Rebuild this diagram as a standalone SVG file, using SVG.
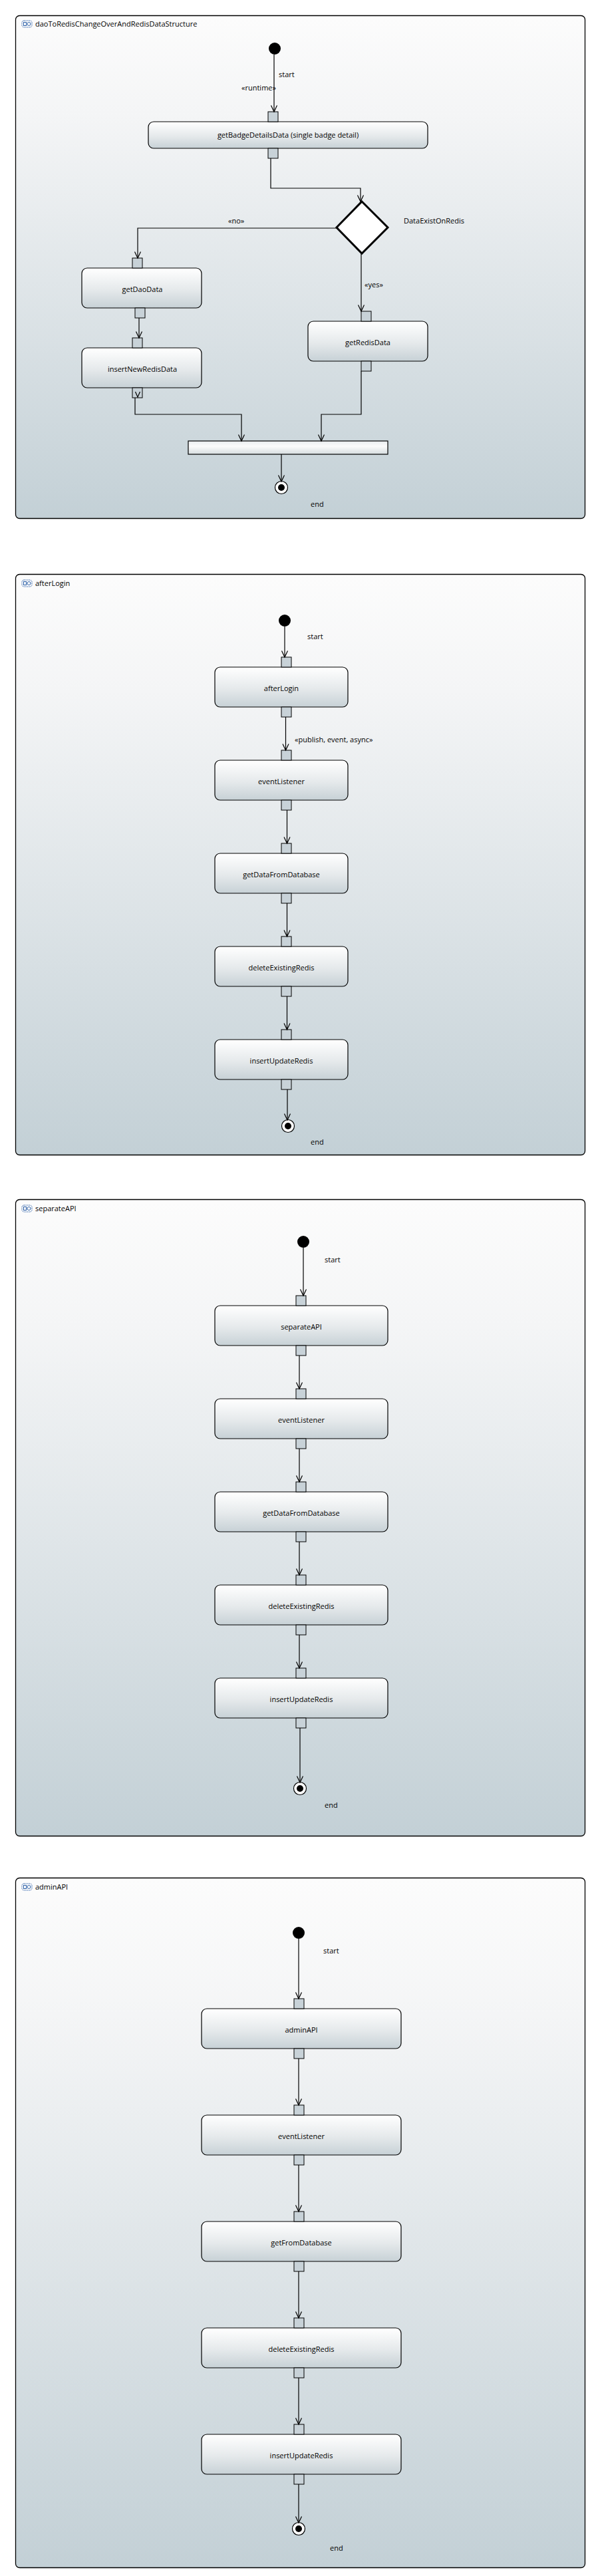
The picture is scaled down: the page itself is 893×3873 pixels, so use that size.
<svg xmlns="http://www.w3.org/2000/svg" width="893" height="3873" viewBox="0 0 893 3873">
<style>
text{font-family:"Open Sans","Noto Sans","DejaVu Sans",sans-serif;font-size:11px;fill:#000}
.frame{fill:url(#gFrame);stroke:#000;stroke-width:1.3}
.act{fill:url(#gAct);stroke:#000;stroke-width:1.2}
.pin{fill:#c8d2d8;stroke:#000;stroke-width:1}
.bar{fill:url(#gBar);stroke:#000;stroke-width:1.2}
.dec{fill:#fff;stroke:#000;stroke-width:3}
.init{fill:#000}
.fin-o{fill:#fff;stroke:#000;stroke-width:1.2}
.fin-i{fill:#000}
.edge{fill:none;stroke:#000;stroke-width:1.2}
.arrowed{marker-end:url(#arr)}
.ctr{text-anchor:middle}
.icon{fill:none;stroke:#2b5fa8;stroke-width:1}
</style>
<defs>
<linearGradient id="gFrame" x1="0" y1="0" x2="0" y2="1">
<stop offset="0" stop-color="#fcfcfc"/>
<stop offset="0.2" stop-color="#f4f5f6"/>
<stop offset="1" stop-color="#c3d0d6"/>
</linearGradient>
<linearGradient id="gAct" x1="0" y1="0" x2="0" y2="1">
<stop offset="0" stop-color="#ffffff"/>
<stop offset="0.55" stop-color="#e5e9eb"/>
<stop offset="1" stop-color="#c7d1d6"/>
</linearGradient>
<linearGradient id="gBar" x1="0" y1="0" x2="0" y2="1">
<stop offset="0" stop-color="#e9edef"/>
<stop offset="0.4" stop-color="#fbfbfb"/>
<stop offset="1" stop-color="#d6dde0"/>
</linearGradient>
<marker id="arr" markerUnits="userSpaceOnUse" markerWidth="12" markerHeight="12" viewBox="0 0 12 12" refX="10" refY="6" orient="auto">
<path d="M0.5,1.5 L10,6 L0.5,10.5" fill="none" stroke="#000" stroke-width="1.2"/>
</marker>
<g id="frameIcon">
<rect x="0" y="-5" width="15" height="10" rx="3" class="icon" stroke-dasharray="1.5,1"/>
<rect x="2.5" y="-2.5" width="4" height="5" class="icon"/>
<circle cx="10.5" cy="0" r="2.5" class="icon"/>
</g>
</defs>

<!-- ============ Diagram 1 ============ -->
<g id="frame1">
<rect class="frame" x="23.5" y="23.5" width="856" height="756" rx="6"/>
<use href="#frameIcon" x="33" y="36"/>
<text x="53" y="40">daoToRedisChangeOverAndRedisDataStructure</text>
</g>
<g id="d1-start"><circle class="init" cx="413" cy="73" r="9"/></g>
<g id="d1-getBadgeDetailsData">
<rect class="act" x="223" y="183" width="420" height="40" rx="8"/>
<rect class="pin" x="403" y="168" width="15" height="15"/>
<rect class="pin" x="403" y="223" width="15" height="15"/>
<text class="ctr" x="433" y="207">getBadgeDetailsData (single badge detail)</text>
</g>
<g id="d1-DataExistOnRedis">
<polygon class="dec" points="544,303 583,342 544,381 506,342"/>
<text x="607" y="336">DataExistOnRedis</text>
</g>
<g id="d1-getDaoData">
<rect class="act" x="123" y="403" width="180" height="60" rx="8"/>
<rect class="pin" x="199" y="388" width="15" height="15"/>
<rect class="pin" x="203" y="463" width="15" height="15"/>
<text class="ctr" x="214" y="439">getDaoData</text>
</g>
<g id="d1-insertNewRedisData">
<rect class="act" x="123" y="523" width="180" height="60" rx="8"/>
<rect class="pin" x="199" y="508" width="15" height="15"/>
<rect class="pin" x="199" y="583" width="15" height="15"/>
<text class="ctr" x="214" y="559">insertNewRedisData</text>
</g>
<g id="d1-getRedisData">
<rect class="act" x="463" y="483" width="180" height="60" rx="8"/>
<rect class="pin" x="543" y="468" width="15" height="15"/>
<rect class="pin" x="543" y="543" width="15" height="15"/>
<text class="ctr" x="553" y="519">getRedisData</text>
</g>
<g id="d1-join"><rect class="bar" x="283" y="663" width="300" height="20"/></g>
<g id="d1-end">
<circle class="fin-o" cx="423" cy="733" r="9.5"/>
<circle class="fin-i" cx="423" cy="733" r="5"/>
<text x="467" y="762">end</text>
</g>
<g id="d1-connectors">
<path class="edge arrowed" d="M412,82 V168"/>
<text x="419" y="116">start</text>
<text x="363" y="136">«runtime»</text>
<path class="edge arrowed" d="M407,238 V283 H542 V303"/>
<path class="edge arrowed" d="M506,343 H207 V388"/>
<text x="343" y="336">«no»</text>
<path class="edge arrowed" d="M543,381 V468"/>
<text x="548" y="432">«yes»</text>
<path class="edge arrowed" d="M209,478 V508"/>
<path class="edge" d="M203.5,589 L207,597 L210.5,589"/>
<path class="edge arrowed" d="M203,598 V623 H363 V663"/>
<path class="edge arrowed" d="M543,558 V623 H483 V663"/>
<path class="edge arrowed" d="M423,683 V724"/>
</g>

<!-- ============ Diagram 2 ============ -->
<g id="frame2">
<rect class="frame" x="23.5" y="863.5" width="856" height="873" rx="6"/>
<use href="#frameIcon" x="33" y="877"/>
<text x="53" y="881">afterLogin</text>
</g>
<g id="d2-start"><circle class="init" cx="428" cy="933" r="9"/></g>
<g id="d2-afterLogin">
<rect class="act" x="323" y="1003" width="200" height="60" rx="8"/>
<rect class="pin" x="423" y="988" width="15" height="15"/>
<rect class="pin" x="423" y="1063" width="15" height="15"/>
<text class="ctr" x="423" y="1039">afterLogin</text>
</g>
<g id="d2-eventListener">
<rect class="act" x="323" y="1143" width="200" height="60" rx="8"/>
<rect class="pin" x="423" y="1128" width="15" height="15"/>
<rect class="pin" x="423" y="1203" width="15" height="15"/>
<text class="ctr" x="423" y="1179">eventListener</text>
</g>
<g id="d2-getDataFromDatabase">
<rect class="act" x="323" y="1283" width="200" height="60" rx="8"/>
<rect class="pin" x="423" y="1268" width="15" height="15"/>
<rect class="pin" x="423" y="1343" width="15" height="15"/>
<text class="ctr" x="423" y="1319">getDataFromDatabase</text>
</g>
<g id="d2-deleteExistingRedis">
<rect class="act" x="323" y="1423" width="200" height="60" rx="8"/>
<rect class="pin" x="423" y="1408" width="15" height="15"/>
<rect class="pin" x="423" y="1483" width="15" height="15"/>
<text class="ctr" x="423" y="1459">deleteExistingRedis</text>
</g>
<g id="d2-insertUpdateRedis">
<rect class="act" x="323" y="1563" width="200" height="60" rx="8"/>
<rect class="pin" x="423" y="1548" width="15" height="15"/>
<rect class="pin" x="423" y="1623" width="15" height="15"/>
<text class="ctr" x="423" y="1599">insertUpdateRedis</text>
</g>
<g id="d2-end">
<circle class="fin-o" cx="433" cy="1693" r="9.5"/>
<circle class="fin-i" cx="433" cy="1693" r="5"/>
<text x="467" y="1721">end</text>
</g>
<g id="d2-connectors">
<path class="edge arrowed" d="M428,942 V988"/>
<text x="462" y="961">start</text>
<path class="edge arrowed" d="M429.5,1078 V1128"/>
<text x="443" y="1116">«publish, event, async»</text>
<path class="edge arrowed" d="M431.5,1218 V1268"/>
<path class="edge arrowed" d="M431.5,1358 V1408"/>
<path class="edge arrowed" d="M431.5,1498 V1548"/>
<path class="edge arrowed" d="M432,1638 V1684"/>
</g>

<!-- ============ Diagram 3 ============ -->
<g id="frame3">
<rect class="frame" x="23.5" y="1803.5" width="856" height="957" rx="6"/>
<use href="#frameIcon" x="33" y="1817"/>
<text x="53" y="1821">separateAPI</text>
</g>
<g id="d3-start"><circle class="init" cx="456" cy="1867" r="9"/></g>
<g id="d3-separateAPI">
<rect class="act" x="323" y="1963" width="260" height="60" rx="8"/>
<rect class="pin" x="445" y="1948" width="15" height="15"/>
<rect class="pin" x="445" y="2023" width="15" height="15"/>
<text class="ctr" x="453" y="1999">separateAPI</text>
</g>
<g id="d3-eventListener">
<rect class="act" x="323" y="2103" width="260" height="60" rx="8"/>
<rect class="pin" x="445" y="2088" width="15" height="15"/>
<rect class="pin" x="445" y="2163" width="15" height="15"/>
<text class="ctr" x="453" y="2139">eventListener</text>
</g>
<g id="d3-getDataFromDatabase">
<rect class="act" x="323" y="2243" width="260" height="60" rx="8"/>
<rect class="pin" x="445" y="2228" width="15" height="15"/>
<rect class="pin" x="445" y="2303" width="15" height="15"/>
<text class="ctr" x="453" y="2279">getDataFromDatabase</text>
</g>
<g id="d3-deleteExistingRedis">
<rect class="act" x="323" y="2383" width="260" height="60" rx="8"/>
<rect class="pin" x="445" y="2368" width="15" height="15"/>
<rect class="pin" x="445" y="2443" width="15" height="15"/>
<text class="ctr" x="453" y="2419">deleteExistingRedis</text>
</g>
<g id="d3-insertUpdateRedis">
<rect class="act" x="323" y="2523" width="260" height="60" rx="8"/>
<rect class="pin" x="445" y="2508" width="15" height="15"/>
<rect class="pin" x="445" y="2583" width="15" height="15"/>
<text class="ctr" x="453" y="2559">insertUpdateRedis</text>
</g>
<g id="d3-end">
<circle class="fin-o" cx="451" cy="2689" r="9.5"/>
<circle class="fin-i" cx="451" cy="2689" r="5"/>
<text x="488" y="2718">end</text>
</g>
<g id="d3-connectors">
<path class="edge arrowed" d="M456,1876 V1948"/>
<text x="488" y="1898">start</text>
<path class="edge arrowed" d="M450,2038 V2088"/>
<path class="edge arrowed" d="M450,2178 V2228"/>
<path class="edge arrowed" d="M450,2318 V2368"/>
<path class="edge arrowed" d="M450,2458 V2508"/>
<path class="edge arrowed" d="M451,2598 V2680"/>
</g>

<!-- ============ Diagram 4 ============ -->
<g id="frame4">
<rect class="frame" x="23.5" y="2823.5" width="856" height="1037" rx="6"/>
<use href="#frameIcon" x="33" y="2837"/>
<text x="53" y="2841">adminAPI</text>
</g>
<g id="d4-start"><circle class="init" cx="449" cy="2906" r="9"/></g>
<g id="d4-adminAPI">
<rect class="act" x="303" y="3020" width="300" height="60" rx="8"/>
<rect class="pin" x="442" y="3005" width="15" height="15"/>
<rect class="pin" x="442" y="3080" width="15" height="15"/>
<text class="ctr" x="453" y="3056">adminAPI</text>
</g>
<g id="d4-eventListener">
<rect class="act" x="303" y="3180" width="300" height="60" rx="8"/>
<rect class="pin" x="442" y="3165" width="15" height="15"/>
<rect class="pin" x="442" y="3240" width="15" height="15"/>
<text class="ctr" x="453" y="3216">eventListener</text>
</g>
<g id="d4-getFromDatabase">
<rect class="act" x="303" y="3340" width="300" height="60" rx="8"/>
<rect class="pin" x="442" y="3325" width="15" height="15"/>
<rect class="pin" x="442" y="3400" width="15" height="15"/>
<text class="ctr" x="453" y="3376">getFromDatabase</text>
</g>
<g id="d4-deleteExistingRedis">
<rect class="act" x="303" y="3500" width="300" height="60" rx="8"/>
<rect class="pin" x="442" y="3485" width="15" height="15"/>
<rect class="pin" x="442" y="3560" width="15" height="15"/>
<text class="ctr" x="453" y="3536">deleteExistingRedis</text>
</g>
<g id="d4-insertUpdateRedis">
<rect class="act" x="303" y="3660" width="300" height="60" rx="8"/>
<rect class="pin" x="442" y="3645" width="15" height="15"/>
<rect class="pin" x="442" y="3720" width="15" height="15"/>
<text class="ctr" x="453" y="3696">insertUpdateRedis</text>
</g>
<g id="d4-end">
<circle class="fin-o" cx="449" cy="3802" r="9.5"/>
<circle class="fin-i" cx="449" cy="3802" r="5"/>
<text x="496" y="3835">end</text>
</g>
<g id="d4-connectors">
<path class="edge arrowed" d="M449,2915 V3005"/>
<text x="486" y="2937">start</text>
<path class="edge arrowed" d="M449,3095 V3165"/>
<path class="edge arrowed" d="M449,3255 V3325"/>
<path class="edge arrowed" d="M449,3415 V3485"/>
<path class="edge arrowed" d="M449,3575 V3645"/>
<path class="edge arrowed" d="M449,3735 V3793"/>
</g>
</svg>
